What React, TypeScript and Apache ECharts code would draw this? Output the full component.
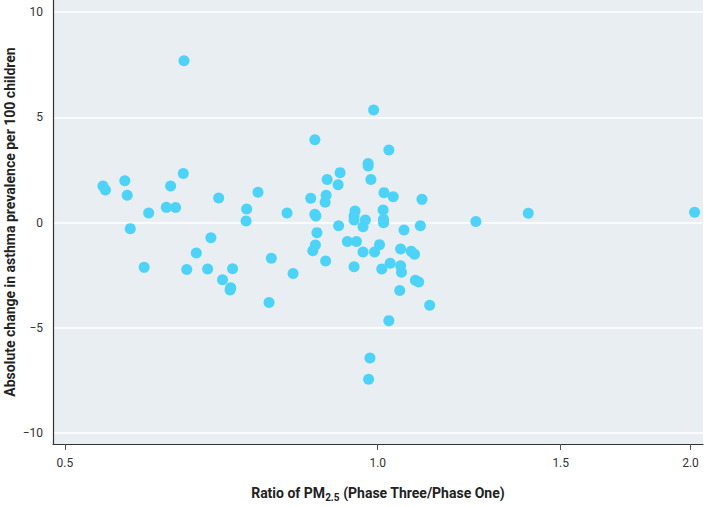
import React, { useEffect, useRef } from "react";
import * as echarts from "echarts";

const ratioPM25: number[] = [
  0.651, 0.65, 0.544, 0.547, 0.571, 0.574, 0.632, 0.626, 0.639, 0.602,
  0.578, 0.703, 0.767, 0.748, 0.747, 0.818, 0.691, 0.669, 0.596, 0.655,
  0.686, 0.725, 0.79, 0.829, 0.709, 0.722, 0.721, 0.786, 0.991, 0.87,
  1.025, 0.979, 0.979, 0.92, 0.894, 0.985, 0.916, 0.862, 0.892, 0.89,
  1.014, 1.035, 1.103, 0.87, 0.872, 0.951, 0.949, 0.949, 0.973, 0.968,
  1.012, 1.013, 1.013, 0.917, 1.06, 1.099, 0.874, 0.871, 0.866, 0.935,
  0.954, 1.004, 0.968, 0.993, 1.052, 1.077, 1.085, 0.891, 0.949, 1.028,
  1.009, 1.052, 1.054, 1.087, 1.095, 1.05, 1.122, 1.025, 0.983, 0.98,
  1.243, 1.396, 2.018,
];

const asthmaChange: number[] = [
  7.68, 2.33, 1.73, 1.55, 1.98, 1.3, 1.73, 0.72, 0.71, 0.45,
  -0.29, 1.16, 1.44, 0.64, 0.07, 0.45, -0.72, -1.45, -2.13, -2.23,
  -2.21, -2.2, -1.7, -2.42, -2.72, -3.1, -3.2, -3.8, 5.34, 3.93,
  3.45, 2.8, 2.68, 2.37, 2.04, 2.04, 1.79, 1.15, 1.3, 0.96,
  1.42, 1.22, 1.1, 0.39, 0.31, 0.55, 0.31, 0.12, 0.12, -0.2,
  0.6, 0.15, -0.01, -0.15, -0.36, -0.15, -0.48, -1.07, -1.34, -0.9,
  -0.9, -1.05, -1.4, -1.4, -1.26, -1.37, -1.51, -1.83, -2.1, -1.93,
  -2.21, -2.05, -2.36, -2.74, -2.82, -3.23, -3.93, -4.66, -6.44, -7.44,
  0.05, 0.44, 0.49,
];

const xTickValues: number[] = [0.5, 1.0, 1.5, 2.0];
const yTickValues: number[] = [-10, -5, 0, 5, 10];

const FONT = "Roboto, 'Liberation Sans', sans-serif";

export default function App() {
  const ref = useRef<HTMLDivElement>(null);

  useEffect(() => {
    if (!ref.current) return;
    const chart = echarts.init(ref.current, undefined, { renderer: "svg" });
    const points = ratioPM25.map((r, i) => [r, asthmaChange[i]]);
    chart.setOption({
      animation: false,
      backgroundColor: "#ffffff",
      grid: {
        left: 53,
        right: 3,
        top: 0,
        bottom: 63,
        show: true,
        backgroundColor: "#e9eef3",
        borderWidth: 0,
        containLabel: false,
        outerBoundsMode: "none",
      },
      xAxis: {
        type: "log",
        logBase: 2,
        min: 0.487,
        max: 2.056,
        name: "{a|Ratio of PM}{s|2.5}{a| (Phase Three/Phase One)}",
        nameLocation: "middle",
        nameGap: 40,
        nameMoveOverlap: false,
        nameTextStyle: {
          rich: {
            a: { fontFamily: FONT, fontSize: 14, fontWeight: "bold", color: "#222" },
            s: { fontFamily: FONT, fontSize: 10, fontWeight: "bold", color: "#222", padding: [8, 0, 0, 0] },
          },
        },
        axisLine: { show: true, onZero: false, lineStyle: { color: "#333", width: 1.2 } },
        axisTick: { show: true, length: 6, customValues: xTickValues, lineStyle: { color: "#555" } },
        axisLabel: {
          customValues: xTickValues,
          formatter: (v: number) => v.toFixed(1),
          fontFamily: FONT,
          fontSize: 12,
          color: "#333",
          margin: 13,
        },
        splitLine: { show: false },
        minorTick: { show: false },
      },
      yAxis: {
        type: "value",
        min: -10.52,
        max: 10.57,
        name: "Absolute change in asthma prevalence per 100 children",
        nameLocation: "middle",
        nameGap: 36,
        nameMoveOverlap: false,
        nameTextStyle: { fontFamily: FONT, fontSize: 14, fontWeight: "bold", color: "#222" },
        axisLine: { show: true, onZero: false, lineStyle: { color: "#333", width: 1.2 } },
        axisTick: { show: false, customValues: yTickValues },
        axisLabel: {
          customValues: yTickValues,
          formatter: (v: number) => (v < 0 ? "\u2212" + Math.abs(v) : String(v)),
          fontFamily: FONT,
          fontSize: 12,
          color: "#333",
          margin: 10,
        },
        splitLine: { show: false },
      },
      series: [
        {
          type: "scatter",
          data: points,
          symbol: "circle",
          symbolSize: 11,
          itemStyle: { color: "#4ed3f8", opacity: 1 },
          markLine: {
            silent: true,
            symbol: "none",
            label: { show: false },
            lineStyle: { color: "#ffffff", width: 1.5, type: "solid" },
            z: 0,
            data: yTickValues.map((v) => ({ yAxis: v })),
          },
        },
      ],
    });
    return () => chart.dispose();
  }, []);

  return (
    <div
      ref={ref}
      style={{ position: "absolute", left: 0, top: 0, width: 706, height: 507 }}
    />
  );
}
